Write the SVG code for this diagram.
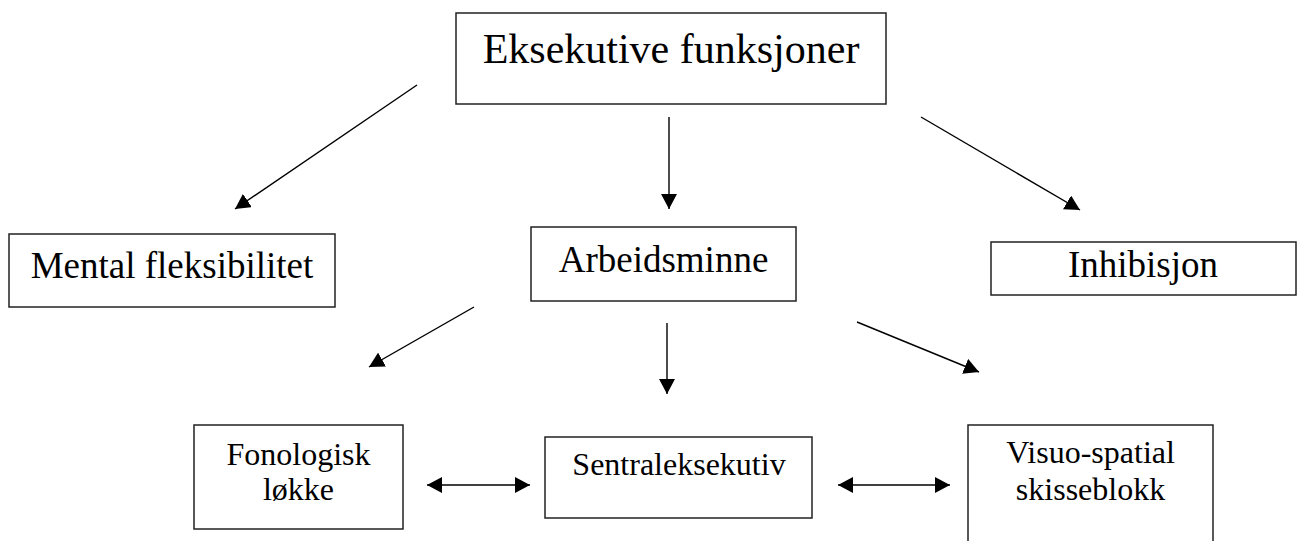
<svg xmlns="http://www.w3.org/2000/svg" width="1298" height="541" viewBox="0 0 1298 541">
<defs>
<marker id="arr" viewBox="0 0 15 16" refX="15" refY="8" markerWidth="15" markerHeight="16" markerUnits="userSpaceOnUse" orient="auto-start-reverse">
<path d="M0,0 L15,8 L0,16 Z" fill="#000"/>
</marker>
<style>
.box{fill:#fff;stroke:#222;stroke-width:1.5}
.t{font-family:"Liberation Serif","Times New Roman",serif;fill:#000;text-anchor:middle}
.c{stroke:#000;stroke-width:1.4;fill:none}
</style>
</defs>
<rect width="1298" height="541" fill="#fff"/>
<g id="n-eksekutive">
<rect class="box" x="456" y="13" width="430" height="91"/>
<text class="t" x="671" y="63" font-size="42">Eksekutive funksjoner</text>
</g>
<g id="n-mental">
<rect class="box" x="9" y="234" width="326" height="73"/>
<text class="t" x="172" y="278" font-size="37">Mental fleksibilitet</text>
</g>
<g id="n-arbeidsminne">
<rect class="box" x="531" y="227" width="265" height="74"/>
<text class="t" x="663.5" y="272" font-size="37">Arbeidsminne</text>
</g>
<g id="n-inhibisjon">
<rect class="box" x="991" y="242" width="305" height="53"/>
<text class="t" x="1143" y="277" font-size="37">Inhibisjon</text>
</g>
<g id="n-fonologisk">
<rect class="box" x="194" y="425" width="209" height="104"/>
<text class="t" x="298.5" y="465" font-size="32">Fonologisk</text>
<text class="t" x="298.5" y="500" font-size="32">løkke</text>
</g>
<g id="n-sentral">
<rect class="box" x="545" y="437" width="267" height="81"/>
<text class="t" x="679" y="475" font-size="32">Sentraleksekutiv</text>
</g>
<g id="n-visuo">
<rect class="box" x="968" y="425" width="245" height="130"/>
<text class="t" x="1090.5" y="463" font-size="32">Visuo-spatial</text>
<text class="t" x="1090.5" y="500" font-size="32">skisseblokk</text>
</g>
<g id="connectors">
<line class="c" x1="417" y1="85" x2="235" y2="209" marker-end="url(#arr)"/>
<line class="c" x1="669" y1="117" x2="669" y2="209" marker-end="url(#arr)"/>
<line class="c" x1="921" y1="117" x2="1080" y2="210" marker-end="url(#arr)"/>
<line class="c" x1="474" y1="307" x2="369" y2="367" marker-end="url(#arr)"/>
<line class="c" x1="667" y1="323" x2="667" y2="394" marker-end="url(#arr)"/>
<line class="c" x1="857" y1="322" x2="979" y2="372" marker-end="url(#arr)"/>
<line class="c" x1="427" y1="485" x2="530" y2="485" marker-start="url(#arr)" marker-end="url(#arr)"/>
<line class="c" x1="838" y1="485" x2="950" y2="485" marker-start="url(#arr)" marker-end="url(#arr)"/>
</g>
</svg>
